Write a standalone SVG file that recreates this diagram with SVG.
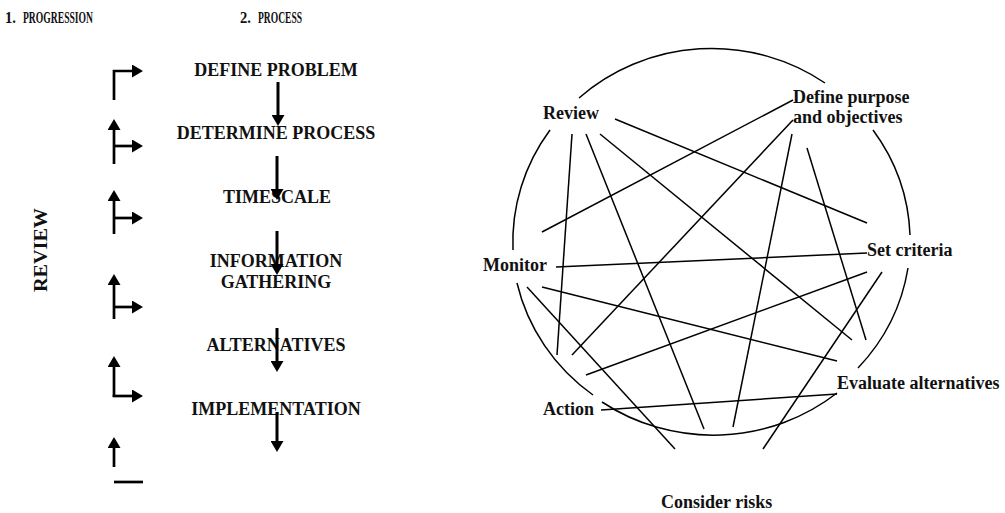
<svg xmlns="http://www.w3.org/2000/svg" width="1005" height="513" viewBox="0 0 1005 513">
<style>
.hd{font-family:"Liberation Serif",serif;font-weight:bold;font-size:17px;fill:#111}
.lb{font-family:"Liberation Serif",serif;font-weight:bold;font-size:18px;fill:#111}
.ce{text-anchor:middle}
.thick{stroke:#000;stroke-width:3;fill:none}
.elb{stroke:#000;stroke-width:2.7;fill:none}
.ch{stroke:#000;stroke-width:1.5;fill:none}
</style>
<defs>
<marker id="ah" markerUnits="userSpaceOnUse" markerWidth="11" markerHeight="13" refX="2" refY="6.5" orient="auto">
<path d="M0,0 L11,6.5 L0,13 z" fill="#000"/>
</marker>
</defs>
<rect width="1005" height="513" fill="#fff"/>

<g id="headers">
<text class="hd" x="5" y="23" textLength="11" lengthAdjust="spacingAndGlyphs">1.</text>
<text class="hd" x="23" y="23" textLength="70" lengthAdjust="spacingAndGlyphs">PROGRESSION</text>
<text class="hd" x="240" y="23" textLength="11" lengthAdjust="spacingAndGlyphs">2.</text>
<text class="hd" x="258" y="23" textLength="44" lengthAdjust="spacingAndGlyphs">PROCESS</text>
</g>

<g id="review-axis">
<text class="lb ce" transform="translate(47,250) rotate(-90)" textLength="84" lengthAdjust="spacingAndGlyphs">REVIEW</text>
</g>

<g id="n-define-problem"><text class="lb ce" x="276" y="76">DEFINE PROBLEM</text></g>
<g id="n-determine-process"><text class="lb ce" x="276" y="139">DETERMINE PROCESS</text></g>
<g id="n-timescale"><text class="lb ce" x="277" y="203">TIMESCALE</text></g>
<g id="n-information"><text class="lb ce" x="276" y="267">INFORMATION</text><text class="lb ce" x="276" y="288">GATHERING</text></g>
<g id="n-alternatives"><text class="lb ce" x="276" y="351">ALTERNATIVES</text></g>
<g id="n-implementation"><text class="lb ce" x="276" y="415">IMPLEMENTATION</text></g>

<g id="n-review"><text class="lb" x="543" y="119">Review</text></g>
<g id="n-define-purpose"><text class="lb" x="793" y="103">Define purpose</text><text class="lb" x="793" y="123">and objectives</text></g>
<g id="n-set-criteria"><text class="lb" x="867" y="256">Set criteria</text></g>
<g id="n-evaluate"><text class="lb" x="837" y="389">Evaluate alternatives</text></g>
<g id="n-monitor"><text class="lb" x="483" y="271">Monitor</text></g>
<g id="n-action"><text class="lb" x="543" y="415">Action</text></g>
<g id="n-consider-risks"><text class="lb" x="661" y="508">Consider risks</text></g>

<g id="connectors">
<!-- progression down arrows -->
<path class="thick" d="M278,82 V117" marker-end="url(#ah)"/>
<path class="thick" d="M277,156 V191" marker-end="url(#ah)"/>
<path class="thick" d="M277,231 V266" marker-end="url(#ah)"/>
<path class="thick" d="M277,328 V363" marker-end="url(#ah)"/>
<path class="thick" d="M277,412 V443" marker-end="url(#ah)"/>
<!-- review elbows -->
<path class="elb" d="M114,100 V71 H134" marker-end="url(#ah)"/>
<path class="elb" d="M114,164 V128" marker-end="url(#ah)"/>
<path class="elb" d="M114,146 H134" marker-end="url(#ah)"/>
<path class="elb" d="M114,234 V199" marker-end="url(#ah)"/>
<path class="elb" d="M114,218 H134" marker-end="url(#ah)"/>
<path class="elb" d="M114,319 V283" marker-end="url(#ah)"/>
<path class="elb" d="M114,307 H134" marker-end="url(#ah)"/>
<path class="elb" d="M114,397 V365" marker-end="url(#ah)"/>
<path class="elb" d="M112.7,396 H134" marker-end="url(#ah)"/>
<path class="elb" d="M114,467 V446" marker-end="url(#ah)"/>
<path class="elb" d="M114,482 H143"/>
<!-- circle arcs -->
<path class="ch" d="M579,98 A198,192 0 0 1 825,83"/>
<path class="ch" d="M873,130 A198,192 0 0 1 910,235"/>
<path class="ch" d="M908,268 A198,192 0 0 1 858,368"/>
<path class="ch" d="M837,393 A198,192 0 0 1 602,402"/>
<path class="ch" d="M593,395 A198,192 0 0 1 517,283"/>
<path class="ch" d="M513,250 A198,192 0 0 1 550,130"/>
<!-- chords -->
<path class="ch" d="M615,119 L867,223"/>
<path class="ch" d="M542,232 L793,100"/>
<path class="ch" d="M572,134 L557,355"/>
<path class="ch" d="M586,134 L704,429"/>
<path class="ch" d="M600,134 L852,340"/>
<path class="ch" d="M793,120 L572,355"/>
<path class="ch" d="M792,134 L733,427"/>
<path class="ch" d="M807,148 L866,340"/>
<path class="ch" d="M556,267 L867,253"/>
<path class="ch" d="M542,287 L837,361"/>
<path class="ch" d="M527,287 L675,449"/>
<path class="ch" d="M586,375 L867,272"/>
<path class="ch" d="M601,410 L837,394"/>
<path class="ch" d="M882,272 L763,449"/>
</g>
</svg>
